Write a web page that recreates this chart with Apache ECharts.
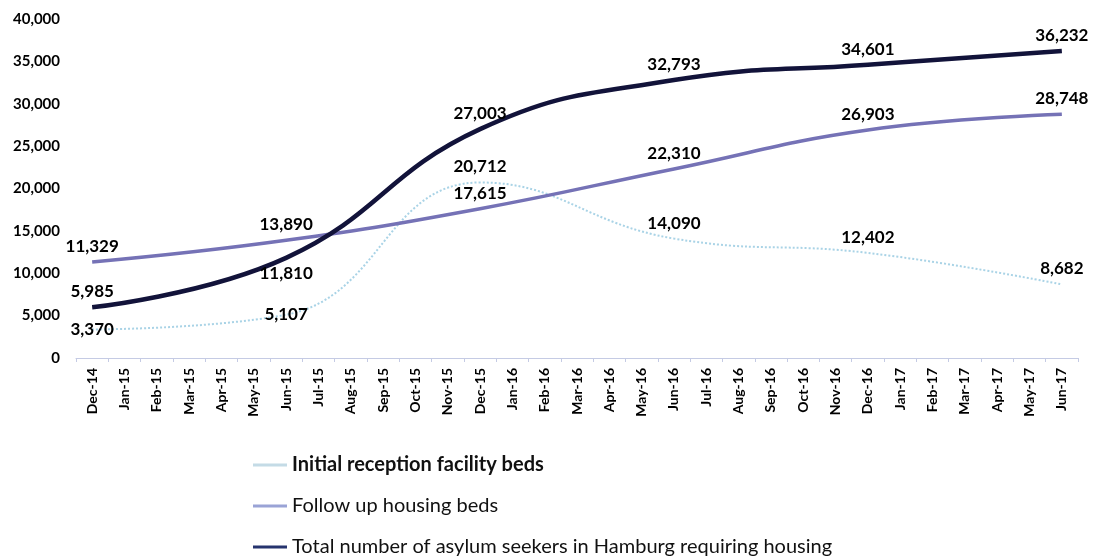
<!DOCTYPE html>
<html>
<head>
<meta charset="utf-8">
<script src="https://cdn.jsdelivr.net/npm/echarts@6/dist/echarts.min.js"></script>
<style>
  html, body { margin: 0; padding: 0; background: #fff; }
  #chart { width: 1095px; height: 558px; }
</style>
</head>
<body>
<div id="chart"></div>
<script>
const months = [
  "Dec-14", "Jan-15", "Feb-15", "Mar-15", "Apr-15", "May-15", "Jun-15",
  "Jul-15", "Aug-15", "Sep-15", "Oct-15", "Nov-15", "Dec-15", "Jan-16",
  "Feb-16", "Mar-16", "Apr-16", "May-16", "Jun-16", "Jul-16", "Aug-16",
  "Sep-16", "Oct-16", "Nov-16", "Dec-16", "Jan-17", "Feb-17", "Mar-17",
  "Apr-17", "May-17", "Jun-17"
];
// the reported dates (every six months)
const reportMonths = ["Dec-14", "Jun-15", "Dec-15", "Jun-16", "Dec-16", "Jun-17"];
const initialBeds = [3370, 5107, 20712, 14090, 12402, 8682];
const followUpBeds = [11329, 13890, 17615, 22310, 26903, 28748];
const totalSeekers = [5985, 11810, 27003, 32793, 34601, 36232];

const names = [
  "Initial reception facility beds",
  "Follow up housing beds",
  "Total number of asylum seekers in Hamburg requiring housing"
];

let chartDom = document.getElementById("chart");
let myChart = echarts.init(chartDom);

function fmt(v) {
  return v.toLocaleString("en-US");
}

// label position per point, default is "top"
function points(values, positions) {
  return values.map(function (v, i) {
    let item = { value: [reportMonths[i], v] };
    if (positions && positions[i]) {
      item.label = { position: positions[i] };
    }
    return item;
  });
}

function lineSeries(name, values, color, width, type, positions) {
  return {
    name: name,
    type: "line",
    smooth: 0.45,
    symbol: "circle",
    symbolSize: 2,
    itemStyle: { color: "rgba(0,0,0,0)" },
    lineStyle: { color: color, width: width, type: type },
    label: {
      show: true,
      position: "top",
      distance: 6,
      color: "#000",
      fontFamily: "Lato",
      fontWeight: "bold",
      fontSize: 17,
      formatter: function (p) { return fmt(p.value[1]); }
    },
    data: points(values, positions)
  };
}

var option = {
  animation: false,
  grid: {
    left: 76,
    right: 17,
    top: 19,
    bottom: 200
  },
  legend: {
    orient: "vertical",
    left: 248,
    top: 450,
    height: 160,
    itemWidth: 34,
    itemHeight: 3,
    itemGap: 21,
    icon: "rect",
    data: [
      { name: names[0], itemStyle: { color: "#c4dbe6", opacity: 1 } },
      { name: names[1], itemStyle: { color: "#9aa3d6", opacity: 1 } },
      { name: names[2], itemStyle: { color: "#26346e", opacity: 1 } }
    ],
    textStyle: {
      color: "#111",
      fontFamily: "Lato",
      fontSize: 20,
      rich: {
        b: { fontFamily: "Lato", fontSize: 20, fontWeight: "bold", color: "#111" }
      }
    },
    formatter: function (name) {
      return name === names[0] ? "{b|" + name + "}" : name;
    }
  },
  xAxis: {
    type: "category",
    data: months,
    axisLine: { show: true, lineStyle: { color: "#c5cbe4", width: 1 } },
    axisTick: { show: true, length: 4, lineStyle: { color: "#c5cbe4" } },
    axisLabel: {
      rotate: 90,
      interval: 0,
      margin: 10,
      color: "#000",
      fontFamily: "Lato",
      fontWeight: "bold",
      fontSize: 14
    }
  },
  yAxis: {
    type: "value",
    min: 0,
    max: 40000,
    interval: 5000,
    axisLine: { show: false },
    axisTick: { show: false },
    splitLine: { show: false },
    axisLabel: {
      margin: 16,
      color: "#000",
      fontFamily: "Lato",
      fontWeight: "bold",
      fontSize: 15,
      formatter: function (v) { return fmt(v); }
    }
  },
  series: [
    lineSeries(names[0], initialBeds, "#a9d3e6", 2, "dotted", ["inside", "inside"]),
    lineSeries(names[1], followUpBeds, "#7572b6", 3.5, "solid", null),
    lineSeries(names[2], totalSeekers, "#12133a", 4.5, "solid", [null, "bottom"])
  ]
};

myChart.setOption(option);
</script>
</body>
</html>
